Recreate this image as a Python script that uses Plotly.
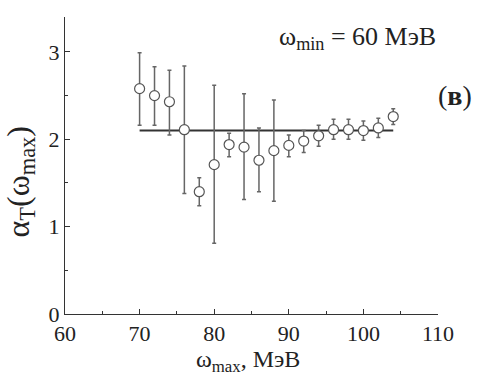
import plotly.graph_objects as go

omega_max = [70, 72, 74, 76, 78, 80, 82, 84, 86, 88, 90, 92, 94, 96, 98, 100, 102, 104]
alpha_T = [2.58, 2.50, 2.43, 2.11, 1.40, 1.71, 1.94, 1.91, 1.76, 1.87, 1.93, 1.98, 2.04, 2.11, 2.11, 2.10, 2.13, 2.26]
err_plus = [0.41, 0.33, 0.36, 0.73, 0.16, 0.91, 0.13, 0.61, 0.37, 0.58, 0.12, 0.12, 0.12, 0.12, 0.12, 0.11, 0.11, 0.09]
err_minus = [0.42, 0.34, 0.38, 0.73, 0.16, 0.90, 0.14, 0.60, 0.36, 0.58, 0.13, 0.13, 0.12, 0.11, 0.11, 0.11, 0.11, 0.09]
fit_x = [70, 104]
fit_y = [2.1, 2.1]

font = "Liberation Serif"
txt = "#222222"

fig = go.Figure()
fig.add_trace(go.Scatter(
    x=fit_x, y=fit_y, mode="lines",
    line=dict(color="#333333", width=2), showlegend=False))
fig.add_trace(go.Scatter(
    x=omega_max, y=alpha_T, mode="markers",
    marker=dict(symbol="circle", size=10, color="white",
                line=dict(color="#555555", width=1.2)),
    error_y=dict(type="data", symmetric=False, array=err_plus, arrayminus=err_minus,
                 color="#666666", thickness=1.5, width=2),
    showlegend=False))

fig.update_layout(
    width=477, height=378,
    margin=dict(l=64.5, r=38.7, t=17, b=64),
    paper_bgcolor="white", plot_bgcolor="white",
    font=dict(family=font, size=22, color=txt),
    xaxis=dict(range=[60, 110], dtick=10, tick0=60, showgrid=False, zeroline=False,
               showline=True, linecolor="#333333", linewidth=1,
               ticks="inside", ticklen=5, tickcolor="#333333",
               minor=dict(ticks="inside", ticklen=3, dtick=5, tickcolor="#333333"),
               tickfont=dict(family=font, size=22, color=txt)),
    yaxis=dict(range=[0, 3.4], dtick=1, showgrid=False, zeroline=False,
               showline=True, linecolor="#333333", linewidth=1,
               ticks="inside", ticklen=5, tickcolor="#333333",
               minor=dict(ticks="inside", ticklen=3, dtick=0.5, tickcolor="#333333"),
               tickfont=dict(family=font, size=22, color=txt)),
    annotations=[
        dict(text="α<sub>T</sub>(ω<sub>max</sub>)", xref="paper", yref="paper",
             x=-0.119, y=0.445, xanchor="center", yanchor="middle", textangle=-90,
             showarrow=False, font=dict(family=font, size=32, color=txt)),
        dict(text="ω<sub>max</sub>, МэВ", xref="paper", yref="paper",
             x=0.49, y=-0.214, xanchor="center", yanchor="bottom",
             showarrow=False, font=dict(family=font, size=24, color=txt)),
        dict(text="ω<sub>min</sub> = 60 МэВ", xref="paper", yref="paper", x=0.785, y=0.929,
             xanchor="center", yanchor="middle", showarrow=False,
             font=dict(family=font, size=26, color=txt)),
        dict(text="(<b>в</b>)", xref="paper", yref="paper", x=1.045, y=0.737,
             xanchor="center", yanchor="middle", showarrow=False,
             font=dict(family=font, size=28, color=txt)),
    ],
)

fig.write_html("out.html")
